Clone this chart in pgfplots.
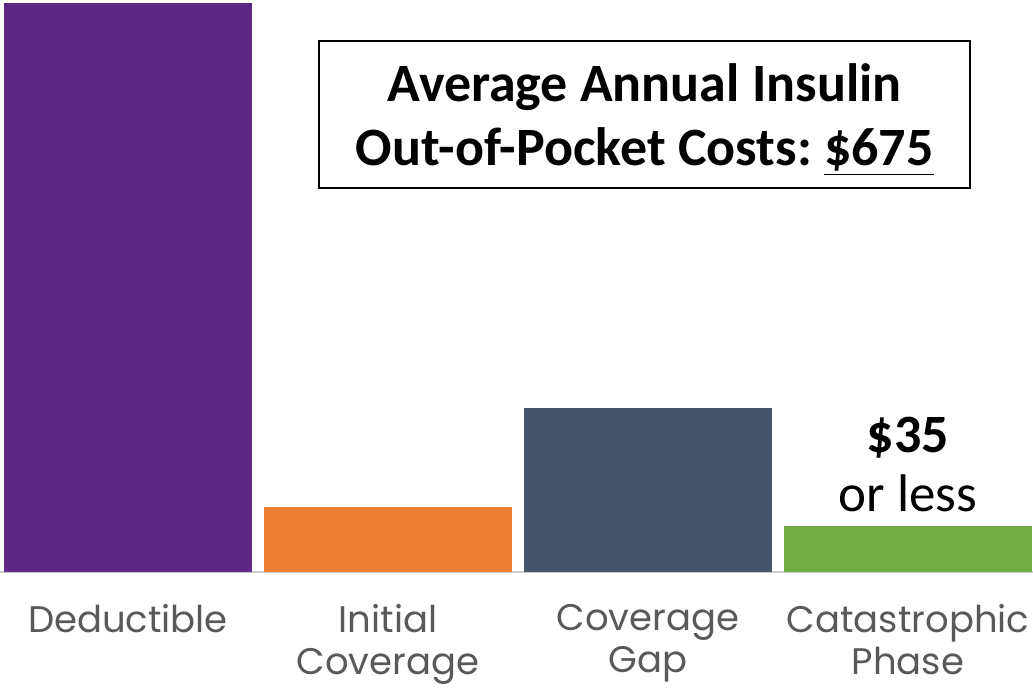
\documentclass[border=0pt]{standalone}
\usepackage{fontspec}
\setmainfont{Carlito}
\newfontfamily\gill{Poppins}
\usepackage{pgfplots}
\pgfplotsset{compat=1.18}
\definecolor{cPurple}{HTML}{5E2985}
\definecolor{cOrange}{HTML}{ED7D31}
\definecolor{cSlate}{HTML}{44546A}
\definecolor{cGreen}{HTML}{70AD47}
\definecolor{cTick}{HTML}{595959}
\begin{document}
\begin{tikzpicture}
\useasboundingbox (0pt,0pt) rectangle (516.5pt,343.5pt);
\begin{axis}[
  at={(0pt,57.5pt)}, anchor=south west,
  scale only axis, width=516.5pt, height=286pt,
  xmin=-0.4923, xmax=3.4808, ymin=0, ymax=435.2,
  ybar, bar width=124pt, bar shift=0pt,
  axis x line*=bottom, axis y line=none,
  x axis line style={draw=black!20, line width=1pt, -},
  xtick={0,1,2,3}, major tick length=0pt,
  xticklabels={Deductible, Initial\\Coverage, Coverage\\Gap, Catastrophic\\Phase},
  xticklabel style={font=\gill\fontsize{18.5}{21}\selectfont, text=cTick, align=center, anchor=north, yshift=-12.5pt},
  clip=false,
]
\addplot[fill=cPurple, draw=none] coordinates {(0,433)};
\addplot[fill=cOrange, draw=none] coordinates {(1,49.5)};
\addplot[fill=cSlate, draw=none] coordinates {(2,125)};
\addplot[fill=cGreen, draw=none] coordinates {(3,35)};
\node at (axis cs:3,91.3) [anchor=base, font=\bfseries\fontsize{27}{32}\selectfont] {\$35};
\node at (axis cs:3,45.7) [anchor=base, font=\fontsize{26.5}{32}\selectfont] {or less};
% outline box and its two lines
\node[draw=black, line width=0.75pt, fill=white, minimum width=325.5pt, minimum height=73.5pt]
  at (rel axis cs:0.624,0.7998) {};
\node[align=center, yshift=-2.5pt, font=\bfseries\fontsize{27}{32}\selectfont] at (rel axis cs:0.624,0.7998)
  {Average Annual Insulin\\Out-of-Pocket Costs:\hspace{-2pt} \underline{\$675}};
\end{axis}
\end{tikzpicture}
\end{document}
